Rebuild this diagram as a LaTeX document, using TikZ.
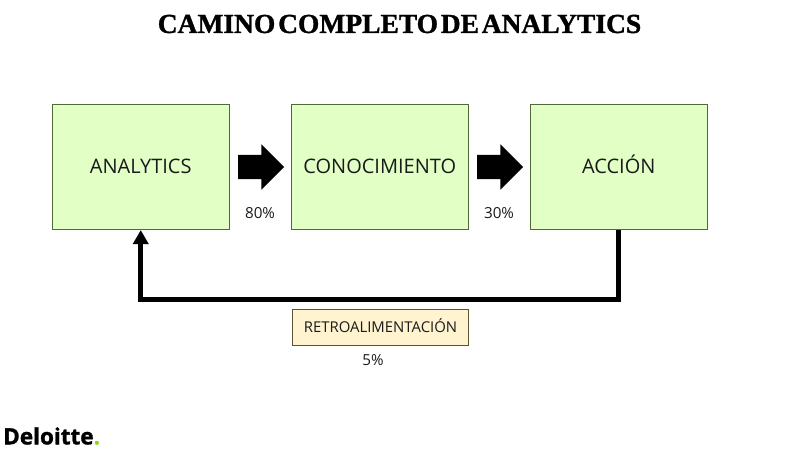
\documentclass[tikz,border=0pt]{standalone}
\usepackage{fontspec}
\setmainfont{Open Sans}
\newfontfamily\titlefont[BoldFeatures={FakeBold=1.2}]{Liberation Serif}
\newfontfamily\logofont[BoldFeatures={FakeBold=1.4}]{Open Sans}
\usetikzlibrary{arrows.meta,shapes.arrows}
\definecolor{boxgreen}{HTML}{E2FFC6}
\definecolor{boxgreenline}{HTML}{4F6A35}
\definecolor{boxyellow}{HTML}{FFF4CF}
\definecolor{boxyellowline}{HTML}{5E5230}
\definecolor{delgreen}{HTML}{8FD31F}
\definecolor{txt}{HTML}{1A1A1A}
\tikzset{
  x=1pt,y=-1pt,
  mainbox/.style={draw=boxgreenline,fill=boxgreen,line width=0.8pt,minimum width=176.5pt,minimum height=125.5pt,inner sep=0pt,text=txt,text height=14.3pt,text depth=2pt,font=\fontsize{20}{24}\selectfont},
  feedbox/.style={draw=boxyellowline,fill=boxyellow,line width=0.8pt,minimum width=176pt,minimum height=36pt,inner sep=0pt,text=txt,text height=10.7pt,text depth=1.5pt,font=\fontsize{14.9}{18}\selectfont},
  pct/.style={text=txt,inner sep=0pt,font=\fontsize{15.2}{18}\selectfont},
  blockarrow/.style={single arrow,fill=black,inner sep=0pt,text height=24pt,text depth=0pt,text width=1pt,minimum width=45pt,minimum height=46pt,single arrow head extend=10.5pt,single arrow head indent=0pt},
  feedback/.style={line width=5pt,-{Triangle[length=14pt,width=15pt]},line join=miter}
}
\begin{document}
\begin{tikzpicture}
\useasboundingbox (0,0) rectangle (800,450);
\node[inner sep=0pt,font=\titlefont\bfseries\fontsize{27.5}{32}\selectfont] (title) at (399.5,24) {\spaceskip=0.1em CAMINO COMPLETO DE ANALYTICS};
\node[mainbox] (analytics) at (140.75,166.9) {ANALYTICS};
\node[mainbox] (conocimiento) at (379.75,166.9) {CONOCIMIENTO};
\node[mainbox] (accion) at (618.75,166.9) {ACCIÓN};
\node[blockarrow] (a1) at (255,167) {};
\node[blockarrow] (a2) at (494,167) {};
\node[pct] (p1) at (260,213) {80\%};
\node[pct] (p2) at (499,213) {30\%};
\coordinate (low) at (380,299);
\draw[feedback] (accion.south) -- (accion.south |- low) -- (analytics.south |- low) -- (analytics.south);
\node[feedbox] (retro) at (380.5,327.5) {RETROALIMENTACIÓN};
\node[pct] (p3) at (373,360) {5\%};
\node[anchor=west,inner sep=0pt,font=\logofont\bfseries\fontsize{22.5}{26}\selectfont] (logo) at (3,436) {Deloitte\textcolor{delgreen}{.}};
\end{tikzpicture}
\end{document}
